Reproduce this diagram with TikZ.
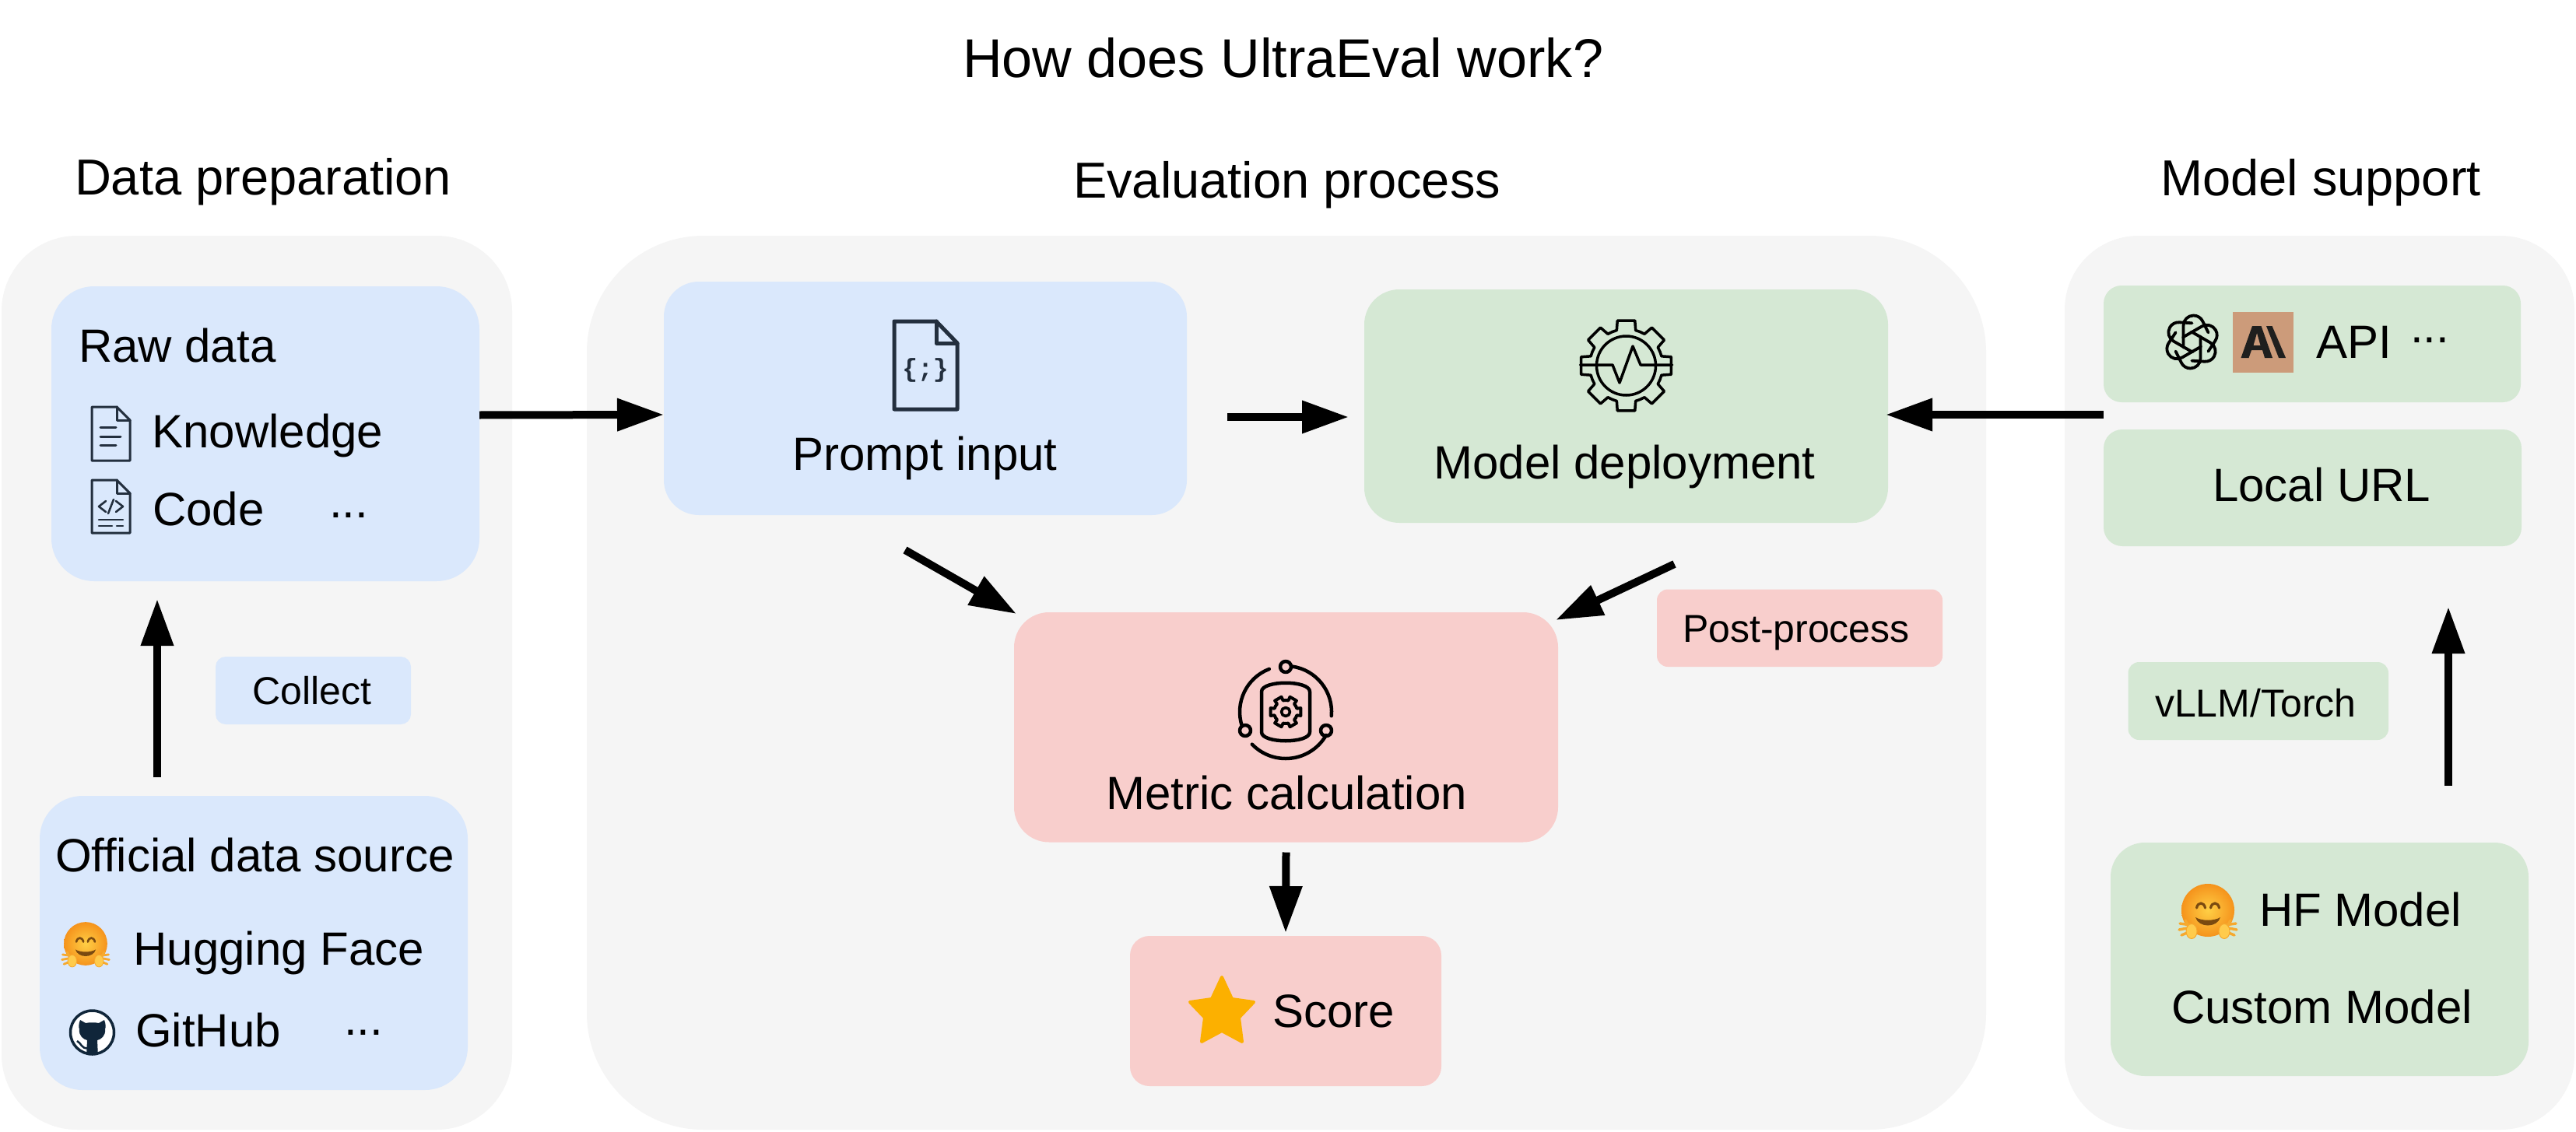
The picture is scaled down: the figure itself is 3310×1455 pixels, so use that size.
\documentclass[tikz,border=0pt]{standalone}
\usepackage{fontspec}
\setmainfont{Liberation Sans}
\newfontfamily\monof{Liberation Mono}
\usetikzlibrary{arrows.meta}
\definecolor{pgray}{HTML}{F5F5F5}
\definecolor{bblue}{HTML}{DAE8FC}
\definecolor{bgreen}{HTML}{D5E8D4}
\definecolor{bred}{HTML}{F8CECC}
\definecolor{icondark}{HTML}{232F3E}
\definecolor{ghdark}{HTML}{10263A}
\definecolor{anthbg}{HTML}{CC9B7A}
\definecolor{anthfg}{HTML}{1F1F1E}
\definecolor{staror}{HTML}{FCB000}
\definecolor{emoin}{HTML}{FFCF45}
\definecolor{emoout}{HTML}{F5931C}
\definecolor{emobrown}{HTML}{7A4A10}
\definecolor{emofinger}{HTML}{F6A92E}
\definecolor{emopalm}{HTML}{FFCB4C}
\tikzset{
  rbox/.style={rectangle,inner sep=0pt,outer sep=0pt,draw=none},
  panel/.style={rbox,fill=pgray},
  bluebox/.style={rbox,fill=bblue},
  greenbox/.style={rbox,fill=bgreen},
  redbox/.style={rbox,fill=bred},
  lbl/.style={anchor=base west,inner sep=0pt,outer sep=0pt,text=black,font=\fontsize{60}{72}\selectfont},
  lblsmall/.style={lbl,font=\fontsize{50}{60}\selectfont},
  lblhead/.style={lbl,font=\fontsize{65}{78}\selectfont},
  lbltitle/.style={lbl,font=\fontsize{70.2}{85}\selectfont},
  arr/.style={line width=10pt,draw=black,-{Triangle[length=60pt,width=40pt]}},
  iconline/.style={draw=icondark,line join=round,line cap=round,fill=none},
  blackicon/.style={draw=black,line join=round,line cap=round,fill=none},
}
% x1 y1 x2 y2 foldx foldy line width
\newcommand\docicon[7]{%
  \draw[iconline,line width=#7pt] (#1,#2) -- (#5,#2) -- (#3,#6) -- (#3,#4) -- (#1,#4) -- cycle;
  \draw[iconline,line width=#7pt] (#5,#2) -- (#5,#6) -- (#3,#6);
}
\newcommand\hugface[3]{%
  \begin{scope}[shift={(#1,#2)},scale=#3]
    \shade[inner color=emoin,outer color=emoout] (0,0) circle[radius=34];
    \draw[draw=emobrown,line width=#3*3.2pt,line cap=round] (-14.5,-3) .. controls (-13,-11) and (-5,-11) .. (-3.5,-3);
    \draw[draw=emobrown,line width=#3*3.2pt,line cap=round] (3.5,-3) .. controls (5,-11) and (13,-11) .. (14.5,-3);
    \fill[emobrown] (-16,9) .. controls (-8,14) and (8,14) .. (16,9) .. controls (12,23) and (-12,23) .. (-16,9) -- cycle;
    \foreach \s in {-1,1}{
      \draw[draw=emofinger,line width=#3*3.4pt,line cap=round]
        (\s*22,22) -- (\s*37,25) (\s*22,19) -- (\s*36,17) (\s*22,27) -- (\s*34,32) (\s*25,20) -- (\s*29,13);
      \fill[emopalm] (\s*21,27) ellipse[x radius=7,y radius=9.5];
      \draw[draw=emofinger,line width=#3*1pt] (\s*21,27) ellipse[x radius=7,y radius=9.5];
    }
  \end{scope}
}
\begin{document}
\begin{tikzpicture}[x=1pt,y=-1pt]
\useasboundingbox (0,0) rectangle (3310,1455);
\fill[white] (0,0) rectangle (3310,1455);
% panels
\node[panel,rounded corners=97pt,minimum width=656pt,minimum height=1149pt] (pdata) at (330,877.5) {};
\node[panel,rounded corners=150pt,minimum width=1798pt,minimum height=1149pt] (peval) at (1653,877.5) {};
\node[panel,rounded corners=95pt,minimum width=655pt,minimum height=1149pt] (pmodel) at (2980.5,877.5) {};
% boxes
\node[bluebox,rounded corners=55pt,minimum width=550pt,minimum height=379pt] (raw) at (341,557.5) {};
\node[bluebox,rounded corners=55pt,minimum width=550pt,minimum height=378pt] (off) at (326,1212) {};
\node[bluebox,rounded corners=13pt,minimum width=251pt,minimum height=87pt] (coll) at (402.5,887.5) {};
\node[bluebox,rounded corners=45pt,minimum width=672pt,minimum height=300pt] (prompt) at (1189,512) {};
\node[greenbox,rounded corners=45pt,minimum width=673pt,minimum height=300pt] (model) at (2089.5,522) {};
\node[redbox,rounded corners=45pt,minimum width=699pt,minimum height=295.5pt] (metric) at (1652.5,934.75) {};
\node[redbox,rounded corners=14pt,minimum width=367pt,minimum height=99.5pt] (post) at (2312.5,807.25) {};
\node[redbox,rounded corners=25pt,minimum width=400pt,minimum height=193pt] (score) at (1652,1299.5) {};
\node[greenbox,rounded corners=23pt,minimum width=536pt,minimum height=150pt] (api) at (2971,442) {};
\node[greenbox,rounded corners=24pt,minimum width=537pt,minimum height=150pt] (local) at (2971.5,627) {};
\node[greenbox,rounded corners=14pt,minimum width=334.5pt,minimum height=100pt] (vllm) at (2901.75,901) {};
\node[greenbox,rounded corners=44pt,minimum width=537pt,minimum height=300pt] (hf) at (2980.5,1233) {};
% headings
\node[lbltitle] (ttl) at (1237,100) {How does UltraEval work?};
\node[lblhead] (tdata) at (96,251) {Data preparation};
\node[lblhead] (teval) at (1379,255) {Evaluation process};
\node[lblhead] (tmodel) at (2776,252) {Model support};
% left labels
\node[lbl] (lraw) at (101,465) {Raw data};
\node[lbl] (lknow) at (195.5,575) {Knowledge};
\node[lbl] (lcode) at (196,675) {Code};
\node[lbl] (ldots1) at (423,665) {...};
\node[lbl] (loff) at (71,1120) {Official data source};
\node[lbl] (lhug) at (171.5,1240) {Hugging Face};
\node[lbl] (lgit) at (174,1345) {GitHub};
\node[lbl] (ldots2) at (442,1330) {...};
\node[lblsmall] (lcoll) at (324.5,905) {Collect};
% centre labels
\node[lbl] (lprompt) at (1018.5,604) {Prompt input};
\node[lbl] (lmodel) at (1842.5,615) {Model deployment};
\node[lbl] (lmetric) at (1421.5,1040) {Metric calculation};
\node[lblsmall] (lpost) at (2162,825) {Post-process};
\node[lbl] (lscore) at (1635,1320) {Score};
% right labels
\node[lbl] (lapi) at (2976,460) {API};
\node[lbl] (ldots3) at (3097,440) {...};
\node[lbl] (llocal) at (2843,644.5) {Local URL};
\node[lblsmall] (lvllm) at (2769,921) {vLLM/Torch};
\node[lbl] (lhf) at (2903,1190) {HF Model};
\node[lbl] (lcustom) at (2790,1315) {Custom Model};
% arrows
\draw[arr] ([xshift=-124pt,yshift=24pt]off.north) -- ([xshift=-139pt,yshift=-23pt]raw.south);
\draw[arr] ([yshift=24pt]raw.east) -- ([xshift=0pt,yshift=-21pt]prompt.west);
\draw[arr] ([xshift=52pt,yshift=-24pt]prompt.east) -- ([xshift=-20pt,yshift=-14pt]model.west);
\draw[arr] ([yshift=-91pt]api.west) -- ([xshift=-3pt,yshift=-11pt]model.east);
\draw[arr] ([xshift=-26pt,yshift=-45pt]prompt.south) -- ([xshift=3pt,yshift=-2pt]metric.north west);
\draw[arr] ([xshift=62pt,yshift=-53pt]model.south) -- ([xshift=-3pt,yshift=-10pt]metric.north east);
\draw[arr] ([yshift=-13pt]metric.south) -- ([yshift=4pt]score.north);
\draw[arr] ([xshift=165.5pt,yshift=73pt]hf.north) -- ([xshift=174.5pt,yshift=-78pt]local.south);
% doc icons (left)
\docicon{118}{523}{167}{592}{150}{540}{3}
\draw[iconline,line width=3pt] (129,549) -- (149,549) (129,561) -- (155,561) (129,572) -- (149,572);
\docicon{118}{617}{167}{685}{150}{634}{3}
\draw[iconline,line width=2.6pt] (136,644) -- (127,651) -- (136,658) (149,644) -- (158,651) -- (149,658) (146,642) -- (139,660);
\draw[iconline,line width=2.6pt] (127,668) -- (158,668) (127,676) -- (144,676) (150,676) -- (158,676);
% hugging faces
\hugface{110}{1213}{0.82}
\hugface{2837}{1170}{1}
% GitHub icon
\filldraw[fill=white,draw=ghdark,line width=3.5pt] (118.5,1327) circle[radius=28];
\begin{scope}
  \clip (118.5,1327) circle[radius=28];
  \fill[ghdark] (103,1311) -- (110,1315) .. controls (115,1314) and (122,1314) .. (127,1315) -- (134,1311)
    .. controls (136,1316) and (136,1320) .. (135,1323) .. controls (136,1331) and (130,1336) .. (125,1337)
    -- (126,1358) -- (111,1358) -- (112,1337) .. controls (107,1336) and (101,1331) .. (102,1323)
    .. controls (101,1320) and (101,1316) .. (103,1311) -- cycle;
  \draw[ghdark,line width=2.5pt] (113,1347) .. controls (105,1349) and (104,1340) .. (99,1338);
\end{scope}
% prompt icon
\docicon{1149}{413}{1230}{526}{1203}{441}{5}
\node[inner sep=0pt,text=icondark,font=\monof\bfseries\fontsize{33}{36}\selectfont] (ibrace) at (1189,476) {\{;\}};
% gear icon
\begin{scope}[shift={(2089.5,470)}]
  \foreach \a in {0,45,...,315}{
    \draw[blackicon,line width=3.5pt] (\a-22.5:47) -- (\a-15:47) -- (\a-11:59) -- (\a+11:59) -- (\a+15:47) -- (\a+22.5:47);
  }
  \draw[blackicon,line width=3.5pt] (0,0) circle[radius=38];
  \draw[blackicon,line width=3.5pt] (-59,-1) -- (-17.5,-1) -- (-8.5,22) -- (8.5,-25) -- (18.5,-1) -- (59,-1);
\end{scope}
% metric icon
\begin{scope}[shift={(1652,915)}]
  \draw[blackicon,line width=4.5pt] (249:59) arc[start angle=249,end angle=162,radius=59];
  \draw[blackicon,line width=4.5pt] (-82:59) arc[start angle=-82,end angle=5,radius=59];
  \draw[blackicon,line width=4.5pt] (30:60) arc[start angle=30,end angle=136,radius=60];
  \draw[blackicon,line width=4.5pt] (0,-58) circle[radius=7];
  \draw[blackicon,line width=4.5pt] (52,24) circle[radius=7];
  \draw[blackicon,line width=4.5pt] (-52,24) circle[radius=7];
  \draw[blackicon,line width=4.5pt] (-31,-26) .. controls (-31,-41) and (31,-41) .. (31,-26) -- (31,26) .. controls (31,41) and (-31,41) .. (-31,26) -- cycle;
  \foreach \a in {0,60,...,300}{
    \draw[blackicon,line width=4pt] (\a-30:15) -- (\a-17:15) -- (\a-14:20) -- (\a+14:20) -- (\a+17:15) -- (\a+30:15);
  }
  \draw[blackicon,line width=3.6pt] (0,0) circle[radius=5.5];
\end{scope}
% star
\filldraw[staror,draw=staror,line width=4pt,line join=round]
  (1570,1256) -- (1583,1284) -- (1611,1288) -- (1592,1308) -- (1596,1339) -- (1570,1325)
  -- (1544,1339) -- (1548,1308) -- (1529,1288) -- (1557,1284) -- cycle;
% OpenAI logo
\begin{scope}[shift={(2816.5,439.5)}]
  \foreach \a in {0,60,...,300}{
    \begin{scope}[rotate=\a]
      \draw[blackicon,line width=3.8pt] (-11,7) -- (-11,-21) arc[start angle=180,end angle=335,radius=13] -- (21,-12);
    \end{scope}
  }
\end{scope}
% Anthropic tile
\fill[anthbg] (2869,401) rectangle (2947,479);
\fill[anthfg,even odd rule] (2879.5,460) -- (2894,419) -- (2905.5,419) -- (2920,460) -- (2910,460) -- (2907,450) -- (2893,450) -- (2889.5,460) -- cycle
  (2900,428) -- (2895.5,444) -- (2904.5,444) -- cycle;
\fill[anthfg] (2912,419) -- (2919.5,419) -- (2937,460) -- (2928,460) -- cycle;
\end{tikzpicture}
\end{document}
